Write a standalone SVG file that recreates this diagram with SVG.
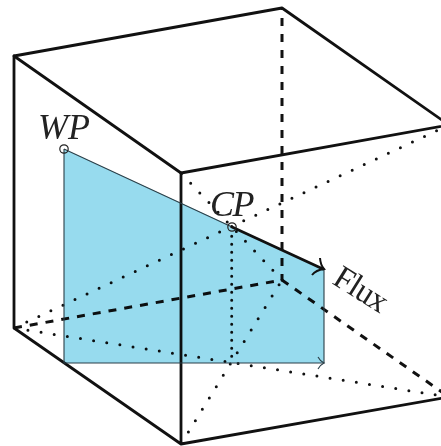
<svg xmlns="http://www.w3.org/2000/svg" width="441" height="446" viewBox="0 0 441 446">
<style>
.solid{fill:none;stroke:#111;stroke-width:2.8;stroke-linejoin:round;stroke-linecap:round}
.dash{fill:none;stroke:#111;stroke-width:3;stroke-dasharray:8 8}
.dot{fill:none;stroke:#111;stroke-width:3;stroke-dasharray:0 13.3;stroke-dashoffset:-0.8;stroke-linecap:round}
.thin{fill:none;stroke:#2b3f48;stroke-width:1.1}
.math{font-family:"Liberation Serif",serif;font-style:italic;font-size:36px;fill:#222}
.lab{font-family:"Liberation Serif",serif;font-size:33px;fill:#222}
</style>
<rect width="441" height="446" fill="#fff"/>
<g id="cube">
<path class="solid" d="M14 56L282 8L449 125L181 173Z"/>
<path class="solid" d="M14 56V328L181 444V173M181 444L449 397"/>
<path class="dash" d="M282 9V280" stroke-dashoffset="-9"/>
<path class="dash" d="M14 328L282 280L449 397"/>
<path class="dot" d="M14 328L449 125"/>
<path class="dot" d="M14 328L449 397"/>
<path class="dot" d="M181 173L282 280"/>
<path class="dot" d="M181 444L282 280"/>
<path class="dot" d="M231.7 236.300V358" style="stroke-dasharray:0 8;stroke-dashoffset:0"/>
</g>
<path id="plane" d="M64 149L324 269V363H64Z" fill="#97dbee" style="mix-blend-mode:multiply"/>
<g id="connectors">
<path class="thin" d="M64 149L232 227M64 149V363H324V269"/>
<path class="solid" d="M232 227L323 269"/>
<path d="M320 258Q320.500 265 324 269Q316 270 312 275" fill="none" stroke="#111" stroke-width="2"/>
<path d="M318 357Q320 361 324 363Q320 365 318 369" fill="none" stroke="#2b3f48" stroke-width="1.1"/>
</g>
<g id="WP"><circle cx="64" cy="149" r="4.2" fill="none" stroke="#222" stroke-width="1.2"/><text class="math" x="38" y="139">WP</text></g>
<g id="CP"><circle cx="232" cy="227" r="4.2" fill="none" stroke="#222" stroke-width="1.2"/><text class="math" x="210" y="216" letter-spacing="-1.5">CP</text></g>
<g id="Flux"><text class="lab" transform="translate(331 283) rotate(32)" letter-spacing="-0.8">Flux</text></g>
</svg>
